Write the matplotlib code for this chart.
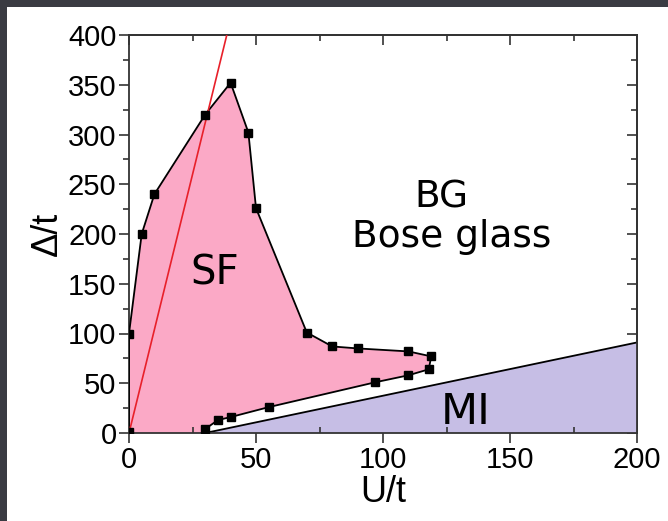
import matplotlib.pyplot as plt
from matplotlib.patches import Rectangle

# SF boundary (upper branch then lower branch), U/t vs Delta/t
sf_u = [0, 0, 5, 10, 30, 40, 47, 50, 70, 80, 90, 110, 119, 118, 110, 97, 55, 40, 35, 30]
sf_d = [1, 100, 200, 240, 320, 352, 302, 226, 101, 87, 85, 82, 77, 64, 58, 51, 26, 16, 13, 4]

# MI boundary
mi_u = [30, 200]
mi_d = [0, 91]

# red line
red_u = [0, 38.5]
red_d = [0, 400]

plt.rcParams['font.family'] = ['Liberation Sans', 'DejaVu Sans']

fig = plt.figure(figsize=(6.68, 5.21), dpi=100)
fig.patch.set_facecolor('#3a3b42')
fig.add_artist(Rectangle((7 / 668, 0), 1, 1 - 7 / 521, transform=fig.transFigure,
                         facecolor='white', edgecolor='none', zorder=-10))
ax = fig.add_axes([129 / 668, 88 / 521, 508 / 668, 398 / 521])

# filled regions
ax.fill([0] + sf_u + [29, 0], [0] + sf_d + [0, 0], color='#fba9c6', zorder=1, lw=0)
ax.fill(mi_u + [200], mi_d + [0], color='#c6bee5', zorder=1, lw=0)

ax.plot(mi_u, mi_d, color='black', lw=1.3, zorder=2)
ax.plot(sf_u + [29], sf_d + [0], color='black', lw=1.3, zorder=3)
ax.plot(sf_u, sf_d, 's', color='black', ms=5.5, zorder=4)
ax.plot(red_u, red_d, color='#e8202a', lw=1.2, zorder=3)

ax.text(33.7, 149, 'SF', fontsize=29, family='DejaVu Sans', ha='center', va='baseline')
ax.text(123, 227, 'BG', fontsize=27, family='DejaVu Sans', ha='center', va='baseline')
ax.text(127, 187, 'Bose glass', fontsize=27, family='DejaVu Sans', ha='center', va='baseline')
ax.text(132.7, 9, 'MI', fontsize=31, family='DejaVu Sans', ha='center', va='baseline')

ax.set_xlim(0, 200)
ax.set_ylim(0, 400)
xmaj = [0, 50, 100, 150, 200]
xmin = [25, 75, 125, 175]
ymaj = list(range(0, 401, 50))
ymin = list(range(25, 400, 50))
ax.set_xticks(xmaj)
ax.set_xticks(xmin, minor=True)
ax.set_yticks(ymaj)
ax.set_yticks(ymin, minor=True)
ax.tick_params(which='both', labelsize=21, width=1.2, color='#333333', pad=2)
ax.tick_params(axis='x', which='major', direction='out', length=7)
ax.tick_params(axis='x', which='minor', direction='in', length=4)
ax.tick_params(axis='y', which='major', direction='out', length=7)
ax.tick_params(axis='y', which='minor', direction='out', length=4)
for s in ax.spines.values():
    s.set_linewidth(1.3)
    s.set_color('#333333')

top = ax.secondary_xaxis('top')
top.set_xticks(xmaj)
top.set_xticks(xmin, minor=True)
top.tick_params(which='both', direction='in', labeltop=False, width=1.2, color='#333333')
top.tick_params(which='major', length=7)
top.tick_params(which='minor', length=4)
right = ax.secondary_yaxis('right')
right.set_yticks(ymaj)
right.set_yticks(ymin, minor=True)
right.tick_params(which='both', direction='in', labelright=False, width=1.2, color='#333333')
right.tick_params(which='major', length=7)
right.tick_params(which='minor', length=4)
for sa in (top, right):
    for s in sa.spines.values():
        s.set_linewidth(1.3)
        s.set_color('#333333')

ax.set_xlabel('U/t', fontsize=26, labelpad=1)
ax.set_ylabel('Δ/t', fontsize=26, labelpad=2)

fig.savefig('out.png', dpi=100)
